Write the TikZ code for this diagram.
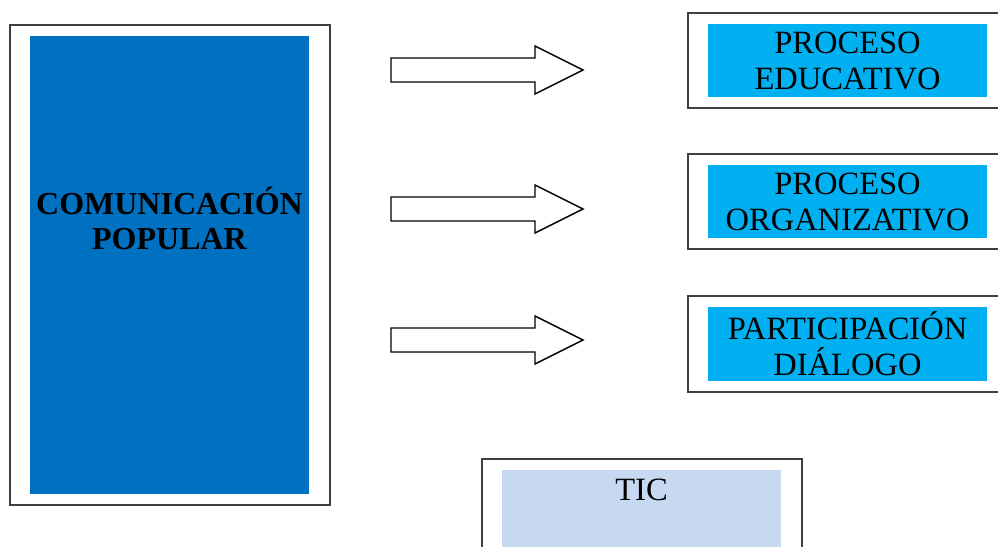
\documentclass[tikz,border=0pt]{standalone}
\usepackage{fontspec}
\setmainfont{Liberation Serif}
\definecolor{popblue}{HTML}{0070C0}
\definecolor{procblue}{HTML}{00B0F0}
\definecolor{ticblue}{HTML}{C6D9F1}
\tikzset{
  frame/.style={draw=black!75, line width=1.4pt},
  procbox/.style={fill=procblue, minimum width=279pt, minimum height=73pt,
    inner sep=0pt, align=center, font=\fontsize{32.5}{36}\selectfont},
  blockarrow/.style={draw=black, line width=1.4pt, fill=white, line join=miter}
}
\begin{document}
\begin{tikzpicture}[x=1pt,y=-1pt]
        \useasboundingbox (0,0) rectangle (998,546);
        % left block
        \draw[frame] (10,25) rectangle (330,505);
        \node[fill=popblue, minimum width=279pt, minimum height=458pt, inner sep=0pt] (pop) at (169.5,265) {};
        \node[align=center, font=\bfseries\fontsize{32}{35}\selectfont] (poptext) at (169.5,218) {COMUNICACIÓN\\POPULAR};
        % arrows
        \foreach \yc in {70,209,340} {
          \draw[blockarrow] (391,\yc-12) -- (535,\yc-12) -- (535,\yc-24) -- (583,\yc)
            -- (535,\yc+24) -- (535,\yc+12) -- (391,\yc+12) -- cycle;
        }
        % right blocks
        \draw[frame] (688,13) rectangle (1010,108);
        \node[procbox] (edu) at (847.5,60.5) {PROCESO\\EDUCATIVO};
        \draw[frame] (688,154) rectangle (1010,249);
        \node[procbox] (org) at (847.5,201.5) {PROCESO\\ORGANIZATIVO};
        \draw[frame] (688,296) rectangle (1010,392);
        \node[procbox, minimum height=74pt] (par) at (847.5,344) {PARTICIPACIÓN\\DIÁLOGO};
        % tic
        \draw[frame] (482,459) rectangle (802,570);
        \node[fill=ticblue, minimum width=279pt, minimum height=80pt, inner sep=0pt] (tic) at (641.5,510) {};
        \node[font=\fontsize{32.5}{36}\selectfont] (tictext) at (641.5,490) {TIC};
\end{tikzpicture}
\end{document}
